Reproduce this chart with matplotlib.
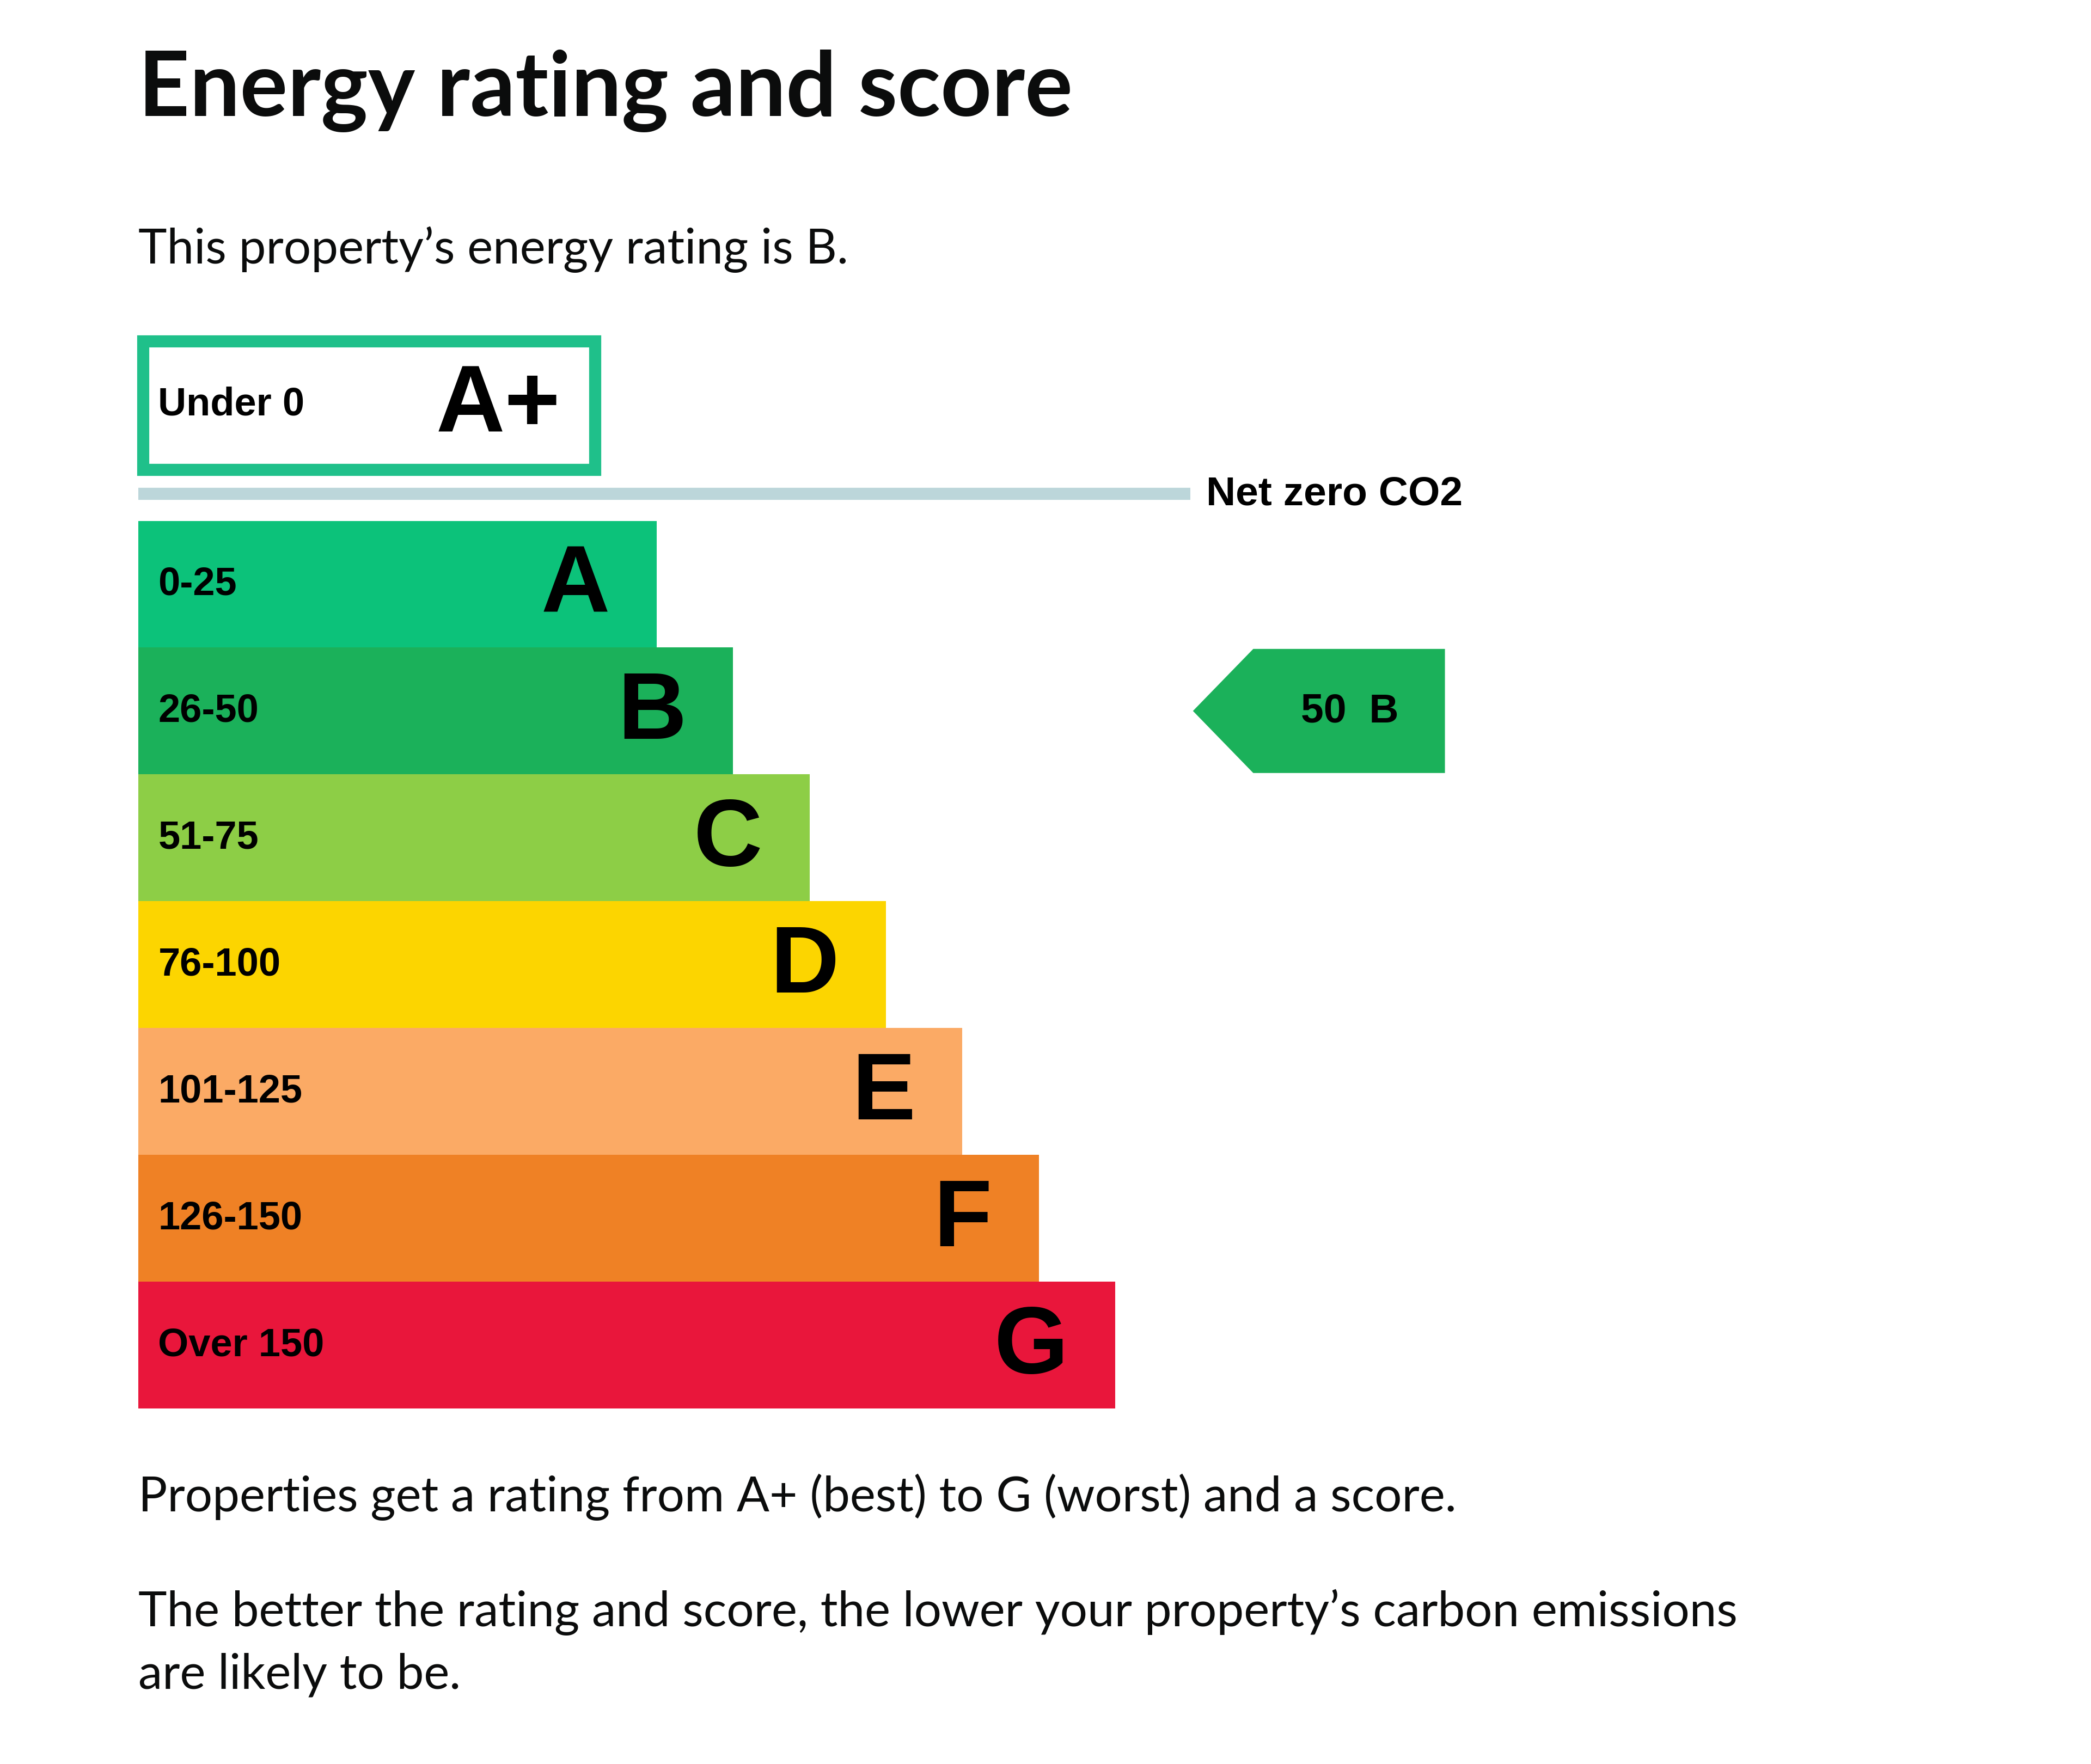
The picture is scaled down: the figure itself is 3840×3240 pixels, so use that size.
import matplotlib
matplotlib.use("Agg")
import matplotlib.pyplot as plt
from matplotlib.patches import Rectangle, Polygon

bands = ["A", "B", "C", "D", "E", "F", "G"]
ranges = ["0-25", "26-50", "51-75", "76-100", "101-125", "126-150", "Over 150"]
colors = ["#0cc27a", "#1bb15a", "#8dce46", "#fcd500", "#fbaa65", "#ef8125", "#e9163b"]
score = 50
rating = "B"

S = 3840 / 1560
W, H = 1560, 3241 / S
fig = plt.figure(figsize=(38.4, 32.41), dpi=100)
ax = fig.add_axes([0, 0, 1, 1])
ax.set_xlim(0, W); ax.set_ylim(H, 0); ax.axis("off")

prose = ["Lato", "DejaVu Sans"]
lab = ["Liberation Sans", "DejaVu Sans"]

ax.text(103, 68, "Energy rating and score", fontsize=118, fontweight="bold",
        family=prose, va="center", ha="left", color="#0b0c0c")
ax.text(103, 186, "This property\u2019s energy rating is B.", fontsize=64,
        family=prose, va="center", ha="left", color="#0b0c0c")

# A+ box
ax.add_patch(Rectangle((107, 255), 337, 96, fill=False, ec="#1fc08a", lw=16))
ax.text(118, 302, "Under 0", fontsize=52, fontweight="bold", family=lab, va="center")
ax.text(418, 304, "A+", fontsize=126, fontweight="bold", family=lab, va="center", ha="right")

# Net zero line
ax.plot([103, 888], [369, 369], color="#bcd6da", lw=16, solid_capstyle="butt")
ax.text(900, 369, "Net zero CO2", fontsize=54, fontweight="bold", family=lab, va="center")

top, h, x0 = 389, 94.6, 103
for i, (b, r, c) in enumerate(zip(bands, ranges, colors)):
    y = top + i * h
    right = 490 + i * 57
    ax.add_patch(Rectangle((x0, y), right - x0, h, fc=c, ec="none"))
    ax.text(118, y + h / 2, r, fontsize=52, fontweight="bold", family=lab, va="center")
    ax.text(right - 35, y + h / 2 + 2, b, fontsize=126, fontweight="bold",
            family=lab, va="center", ha="right")

bi = bands.index(rating)
y = top + bi * h
ax.add_patch(Polygon([(890, y + h / 2), (935, y + 1), (1078, y + 1),
                      (1078, y + h - 1), (935, y + h - 1)],
                     closed=True, fc=colors[bi], ec="none"))
ax.text(1007, y + h / 2, f"{score}  {rating}", fontsize=54, fontweight="bold",
        family=lab, va="center", ha="center")

ax.text(103, 1117, "Properties get a rating from A+ (best) to G (worst) and a score.",
        fontsize=64, family=prose, va="center", color="#0b0c0c")
ax.text(103, 1203, "The better the rating and score, the lower your property\u2019s carbon emissions",
        fontsize=64, family=prose, va="center", color="#0b0c0c")
ax.text(103, 1250, "are likely to be.", fontsize=64, family=prose, va="center", color="#0b0c0c")

fig.savefig("out.png", dpi=100, facecolor="white")
